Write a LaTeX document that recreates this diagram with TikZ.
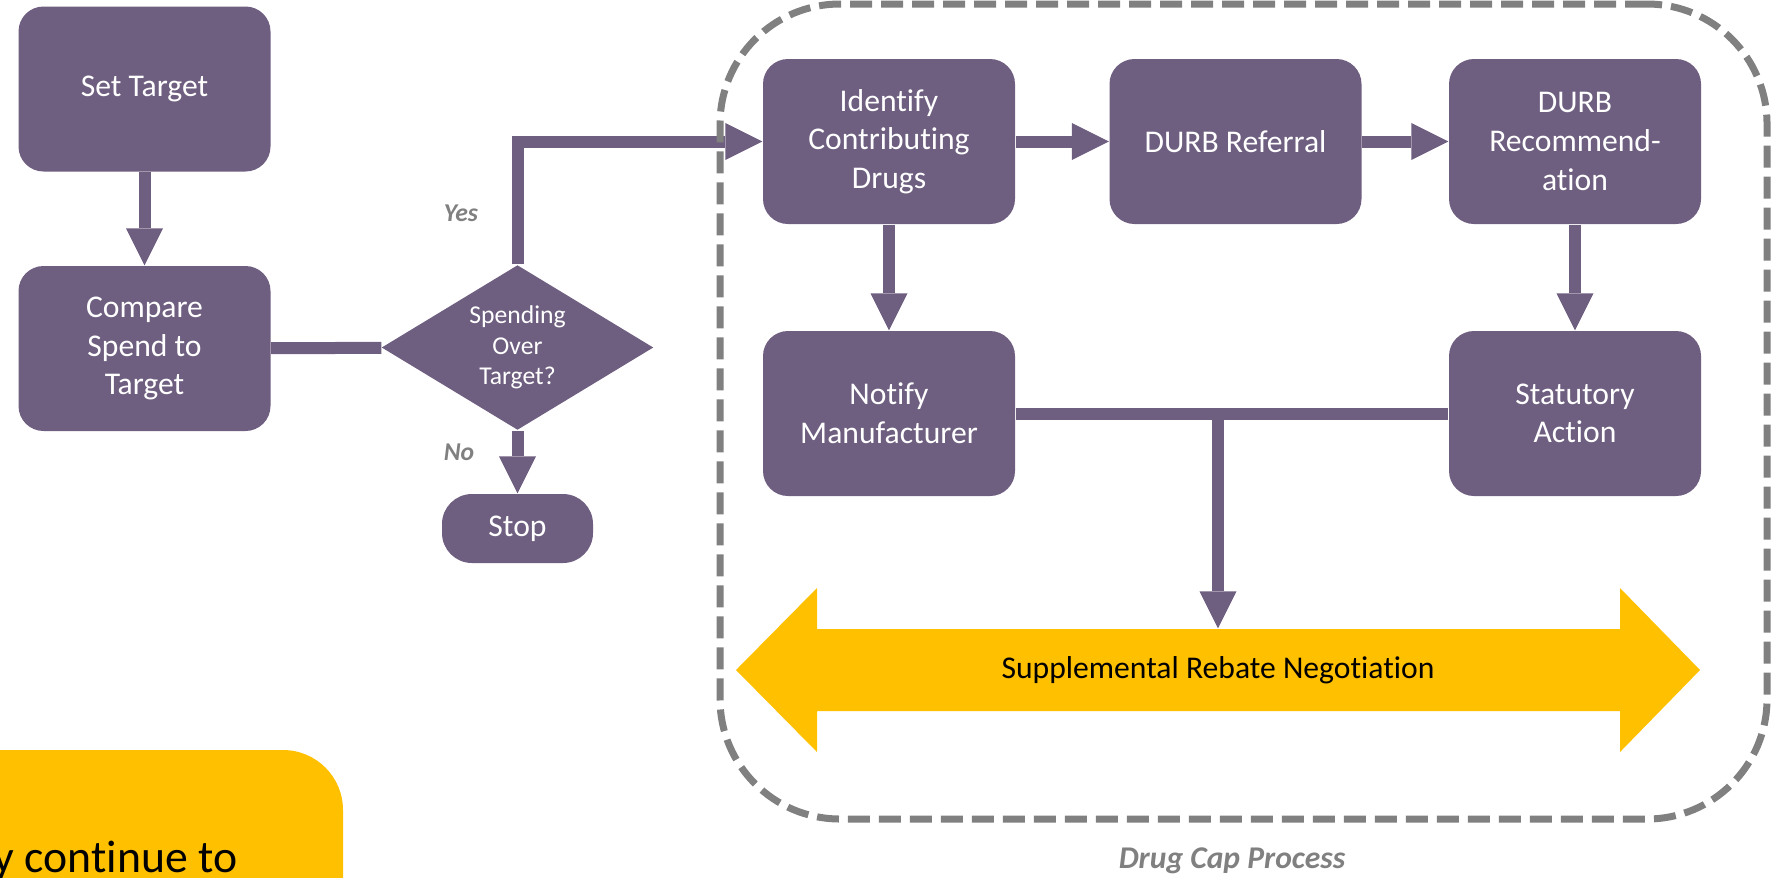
\documentclass[tikz,border=0pt]{standalone}
\usepackage{fontspec}
\setmainfont[Ligatures=NoCommon]{Carlito}
\usetikzlibrary{shapes.geometric,arrows.meta}
\definecolor{purp}{RGB}{110,94,128}
\definecolor{gold}{RGB}{255,192,0}
\definecolor{capgray}{RGB}{128,128,128}

\begin{document}
\begin{tikzpicture}
                \tikzstyle{procbox}=[rectangle, rounded corners=0.25cm, fill=purp, text=white, minimum width=2.52cm, minimum height=1.65cm, inner sep=2pt, align=center, font=\fontsize{9}{11}\selectfont]
                \tikzstyle{decision}=[diamond, fill=purp, text=white, minimum width=2.72cm, minimum height=1.65cm, aspect=1.65, inner sep=0pt, align=center, font=\fontsize{7.3}{8.7}\selectfont]
                \tikzstyle{terminal}=[rectangle, rounded corners=0.3cm, fill=purp, text=white, minimum width=1.51cm, minimum height=0.69cm, font=\fontsize{9}{11}\selectfont]
                \tikzstyle{flow}=[draw=purp, line width=0.12cm, -{Triangle[width=0.37cm,length=0.37cm,line width=0pt]}]
                \tikzstyle{link}=[draw=purp, line width=0.12cm, -]
                \tikzstyle{answer}=[text=capgray, font=\fontsize{7.3}{8.7}\selectfont\bfseries\itshape]
                \tikzstyle{capframe}=[draw=capgray, line width=0.07cm, dash pattern=on 0.22cm off 0.09cm, rounded corners=1.2cm, minimum width=10.47cm, minimum height=8.15cm]

                \useasboundingbox (0,0) rectangle (17.73,-8.77);

                % left part
                \node[procbox] (set) at (1.445,-0.89) {Set Target};
                \node[procbox] (cmp) at (1.445,-3.485) {Compare\\Spend to\\Target};
                \node[decision] (dec) at (5.175,-3.475) {Spending\\Over\\Target?};
                \node[terminal] (stop) at (5.175,-5.285) {Stop};

                % drug cap process
                \node[procbox] (ident) at (8.89,-1.415) {Identify\\Contributing\\Drugs};
                \node[procbox] (ref) at (12.355,-1.415) {DURB Referral};
                \node[procbox] (rec) at (15.75,-1.415) {DURB\\Recommend-\\ation};
                \node[procbox] (notif) at (8.89,-4.135) {Notify\\Manufacturer};
                \node[procbox] (statut) at (15.75,-4.135) {Statutory\\Action};

                \fill[gold] (7.36,-6.70) -- (8.17,-5.88) -- (8.17,-6.29) -- (16.20,-6.29) -- (16.20,-5.88)
                    -- (17.00,-6.70) -- (16.20,-7.52) -- (16.20,-7.11) -- (8.17,-7.11) -- (8.17,-7.52) -- cycle;
                \node[minimum height=0.82cm, inner sep=0pt, font=\fontsize{9}{11}\selectfont] (nego) at (12.18,-6.70) {Supplemental Rebate Negotiation};
                \coordinate (junc) at (12.18,-4.135);

                \foreach \source/ \dest in {set/cmp, dec/stop, ident/ref, ref/rec, ident/notif, rec/statut}
                \path[flow] (\source) -- (\dest);
                \path[link] (cmp) -- (dec);
                \path[flow] (dec.north) |- (ident.west);
                \path[link] (notif) -- (statut);
                \path[flow] (junc) -- (junc |- nego.north);

                \node[answer] (yes) at (4.61,-2.13) {Yes};
                \node[answer] (no) at (4.59,-4.52) {No};

                \node[capframe] (cap) at (12.435,-4.115) {};
                \node[answer, font=\fontsize{9}{11}\selectfont\bfseries\itshape] (caplabel) at (12.32,-8.61) {Drug Cap Process};

                % note box, cut by the page
                \fill[gold, rounded corners=0.6cm] (-1,-7.50) rectangle (3.43,-9.5);
                \node[anchor=base west, inner sep=0pt, font=\fontsize{13}{15}\selectfont] (note) at (-0.07,-8.72) {y continue to};
\end{tikzpicture}
\end{document}
